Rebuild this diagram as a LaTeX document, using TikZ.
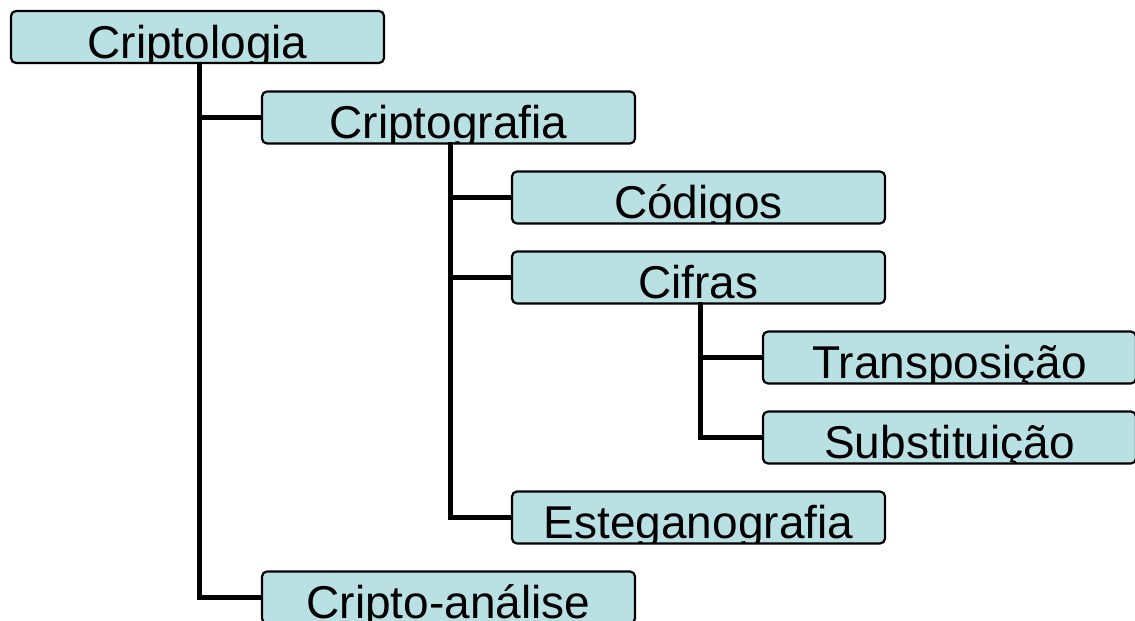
\documentclass[tikz,border=0pt]{standalone}
\usepackage{fontspec}
\setmainfont{Liberation Sans}
\usepackage{tikz}
\definecolor{boxblue}{RGB}{185,224,227}
\tikzset{
  lbl/.style={anchor=base,inner sep=0pt,font=\fontsize{46}{50}\selectfont},
  cbox/.style={draw=black,fill=boxblue,line width=2.2pt,rounded corners=5pt,
    minimum width=373pt,minimum height=52pt,inner sep=0pt,
    path picture={\node[lbl] at ([yshift=5pt]path picture bounding box.south) {#1};}},
  conn/.style={line width=5pt,line cap=rect}
}
\begin{document}
\begin{tikzpicture}[x=1pt,y=-1pt]
        \clip (0,0) rectangle (1135,621);

        \node[cbox=Criptologia] (crl) at (197.5, 37) {};
        \node[cbox=Criptografia] (crg) at (448.5, 117.5) {};
        \node[cbox=Códigos] (cod) at (698.5, 197.5) {};
        \node[cbox=Cifras] (cif) at (698.5, 277.5) {};
        \node[cbox=Transposição] (tra) at (949.5, 357.5) {};
        \node[cbox=Substituição] (sub) at (949.5, 437.5) {};
        \node[cbox=Esteganografia] (est) at (698.5, 517.5) {};
        \node[cbox=Cripto-análise] (cra) at (448.5, 597.5) {};

        \draw[conn] ([xshift=1.5pt]crl.south) |- (crg.west);
        \draw[conn] ([xshift=1.5pt]crl.south) |- (cra.west);

        \draw[conn] ([xshift=1.5pt]crg.south) |- (cod.west);
        \draw[conn] ([xshift=1.5pt]crg.south) |- (cif.west);
        \draw[conn] ([xshift=1.5pt]crg.south) |- (est.west);

        \draw[conn] ([xshift=1.5pt]cif.south) |- (tra.west);
        \draw[conn] ([xshift=1.5pt]cif.south) |- (sub.west);
\end{tikzpicture}
\end{document}
